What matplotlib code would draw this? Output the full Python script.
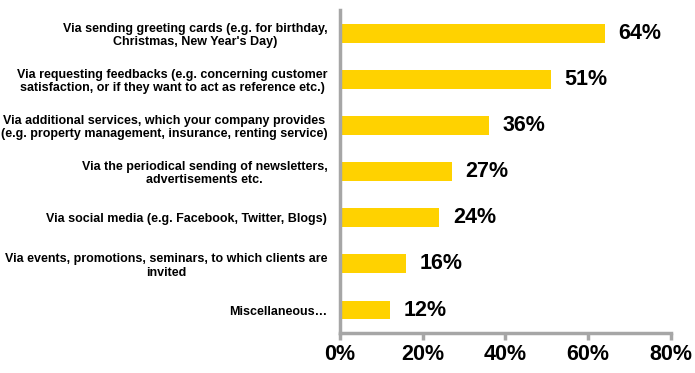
import matplotlib.pyplot as plt

plt.rcParams['font.family'] = ['Liberation Sans', 'DejaVu Sans']

# survey answers, top to bottom
categories = [
    "Via sending greeting cards (e.g. for birthday,\nChristmas, New Year's Day)",
    "Via requesting feedbacks (e.g. concerning customer\nsatisfaction, or if they want to act as reference etc.)",
    "Via additional services, which your company provides\n(e.g. property management, insurance, renting service)",
    "Via the periodical sending of newsletters,\nadvertisements etc.",
    "Via social media (e.g. Facebook, Twitter, Blogs)",
    "Via events, promotions, seminars, to which clients are\ninvited",
    "Miscellaneous\u2026",
]
shares = [64, 51, 36, 27, 24, 16, 12]
xticks = [0, 20, 40, 60, 80]

fig = plt.figure(figsize=(6.95, 3.73), dpi=100)
ax = fig.add_axes([0.489, 0.107, 0.4765, 0.866])

ypos = list(range(len(categories)))
ax.barh(ypos, shares, height=0.41, color='#FFD200')

for y, v in zip(ypos, shares):
    ax.text(v + 3.3, y, f"{v}%", va='center', ha='left',
            fontsize=15.5, fontweight='bold')

ax.set_yticks(ypos)
ax.set_yticklabels(categories, fontsize=9, fontweight='bold',
                   multialignment='center', linespacing=1.15)
ax.set_ylim(6.5, -0.5)
ax.set_xlim(0, 80)
ax.set_xticks(xticks)
ax.set_xticklabels([f"{t}%" for t in xticks], fontsize=15.5, fontweight='bold')

ax.tick_params(axis='y', length=0, pad=9)
ax.tick_params(axis='x', length=5, width=2.5, color='#A6A6A6', pad=3)
for side in ['top', 'right']:
    ax.spines[side].set_visible(False)
for side in ['left', 'bottom']:
    ax.spines[side].set_color('#A6A6A6')
    ax.spines[side].set_linewidth(2.5)

fig.savefig('out.png', dpi=100)
